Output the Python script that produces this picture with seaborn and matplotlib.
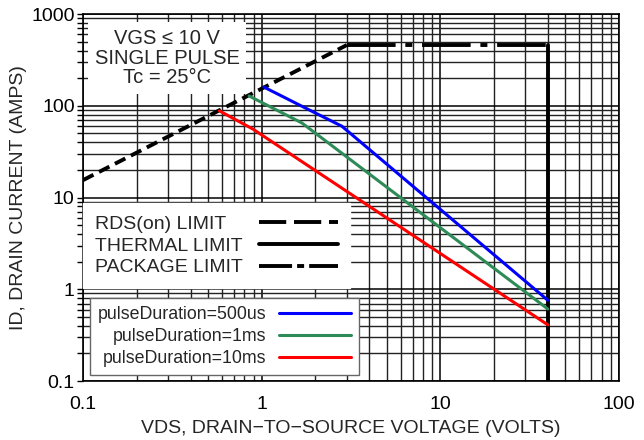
import matplotlib
matplotlib.use("Agg")
import matplotlib.pyplot as plt
import seaborn as sns
from matplotlib.lines import Line2D

sns.set_style("white")
plt.rcParams['font.family'] = ['Liberation Sans', 'DejaVu Sans']

# limit lines
rds_x = [0.1, 3.0]
rds_y = [15.5, 460]
package_x = [3.0, 40]
package_y = [460, 460]
thermal_x = [40, 40]
thermal_y = [460, 0.1]

# safe operating area curves
pulse_labels = ["pulseDuration=500us", "pulseDuration=1ms", "pulseDuration=10ms"]
pulse_colors = ["#0000ff", "#2e8b57", "#ff0000"]
vds_500us = [1.03, 1.75, 2.81, 40]
id_500us = [160, 95, 60, 0.76]
vds_1ms = [0.85, 1.68, 40]
id_1ms = [128, 65, 0.61]
vds_10ms = [0.58, 0.89, 40]
id_10ms = [88, 56, 0.41]

fig = plt.figure(figsize=(6.44, 4.4), dpi=100)
ax = fig.add_axes([0.129, 0.134, 0.832, 0.834])
ax.set_xscale('log')
ax.set_yscale('log')
ax.set_xlim(0.1, 100)
ax.set_ylim(0.1, 1000)

ax.grid(True, which='major', color='black', lw=1.1)
ax.grid(True, which='minor', color='#222222', lw=1.0)
ax.set_axisbelow(True)

sns.lineplot(x=rds_x, y=rds_y, ax=ax, color='black', lw=2.8,
             linestyle=(0, (3, 1.6)), estimator=None, sort=False)
sns.lineplot(x=package_x, y=package_y, ax=ax, color='black', lw=2.8,
             linestyle=(0, (12.5, 2.5, 1.8, 2.5)), estimator=None, sort=False)
sns.lineplot(x=thermal_x, y=thermal_y, ax=ax, color='black', lw=2.8,
             estimator=None, sort=False)

series = [(vds_500us, id_500us), (vds_1ms, id_1ms), (vds_10ms, id_10ms)]
for (vx, vy), c in zip(series, pulse_colors):
    sns.lineplot(x=vx, y=vy, ax=ax, color=c, lw=2.2, estimator=None, sort=False)

for s in ax.spines.values():
    s.set_color('black')
    s.set_linewidth(1.2)

ax.set_xticks([0.1, 1, 10, 100])
ax.set_xticklabels(['0.1', '1', '10', '100'])
ax.set_yticks([0.1, 1, 10, 100, 1000])
ax.set_yticklabels(['0.1', '1', '10', '100', '1000'])
ax.tick_params(axis='both', which='both', labelsize=14, colors='black')
ax.tick_params(axis='y', which='both', direction='out', length=4, width=1, left=True, pad=2)
ax.tick_params(axis='x', which='both', bottom=False)
ax.tick_params(axis='x', which='major', pad=7)

ax.set_xlabel("VDS, DRAIN\u2212TO\u2212SOURCE VOLTAGE (VOLTS)", fontsize=14, labelpad=5)
ax.set_ylabel("ID, DRAIN CURRENT (AMPS)", fontsize=14, labelpad=3)

ax.text(0.157, 0.880, "VGS \u2264 10 V\nSINGLE PULSE\nTc = 25\u00b0C",
        transform=ax.transAxes, ha='center', va='center', fontsize=14.5,
        linespacing=1.05, zorder=5,
        bbox=dict(facecolor='white', edgecolor='none', pad=5))

limit_handles = [
    Line2D([], [], color='black', lw=2.8, linestyle=(0, (7, 2))),
    Line2D([], [], color='black', lw=2.8),
    Line2D([], [], color='black', lw=2.8, linestyle=(0, (8.5, 1.3, 1.8, 1.3))),
]
leg1 = ax.legend(limit_handles, ["RDS(on) LIMIT", "THERMAL LIMIT", "PACKAGE LIMIT"],
                 loc='upper left', bbox_to_anchor=(0.0, 0.484), frameon=True,
                 fancybox=False, framealpha=1, edgecolor='white', fontsize=14,
                 markerfirst=False, handlelength=4.1, handletextpad=0.82,
                 labelspacing=0.22, borderpad=0.6, borderaxespad=0)
leg1.set_zorder(6)
ax.add_artist(leg1)

pulse_handles = [Line2D([], [], color=c, lw=2.2) for c in pulse_colors]
leg2 = ax.legend(pulse_handles, pulse_labels, loc='lower left',
                 bbox_to_anchor=(0.013, 0.016), frameon=True, fancybox=False,
                 framealpha=1, edgecolor='#666666', fontsize=12.8,
                 markerfirst=False, handlelength=4.1, handletextpad=0.67,
                 labelspacing=0.28, borderpad=0.45, borderaxespad=0)
leg2.set_zorder(6)
leg2.get_frame().set_linewidth(1.0)

# left-align the limit legend labels (markerfirst=False right-aligns them)
fig.canvas.draw()
renderer = fig.canvas.get_renderer()
widths = [t.get_window_extent(renderer).width for t in leg1.get_texts()]
wmax = max(widths)
for t, w in zip(leg1.get_texts(), widths):
    t.set_position((-(wmax - w), 0))

fig.savefig("out.png", dpi=100)
